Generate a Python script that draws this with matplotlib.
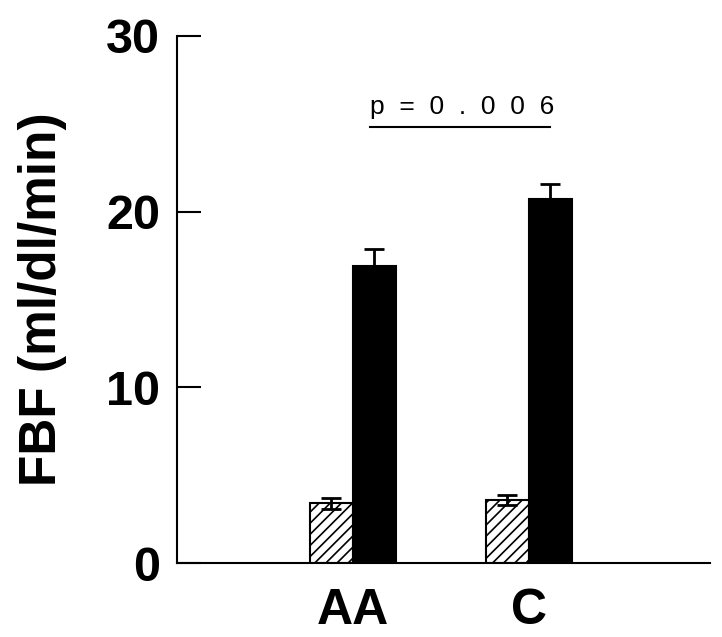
import numpy as np
import matplotlib
matplotlib.use("Agg")
import matplotlib.pyplot as plt

plt.rcParams['font.family'] = ['Liberation Sans', 'DejaVu Sans']
plt.rcParams['hatch.linewidth'] = 1.2

groups = ['AA', 'C']
baseline = [3.4, 3.6]
baseline_err = [0.3, 0.3]
peak = [16.9, 20.7]
peak_err = [1.0, 0.9]
p_text = "p  =  0  .  0  0  6"
p_level = 24.8

x = np.array([1.0, 2.0])
w = 0.245

fig = plt.figure(figsize=(7.22, 6.37), dpi=100)
ax = fig.add_axes([0.245, 0.116, 0.738, 0.8275])

ax.bar(x - w / 2, baseline, w, color='white', edgecolor='black', hatch='///', linewidth=1.5)
ax.errorbar(x - w / 2, baseline, yerr=baseline_err, fmt='none', ecolor='black', elinewidth=2, capsize=7, capthick=2)
ax.bar(x + w / 2, peak, w, color='black', edgecolor='black', linewidth=1.5)
ax.errorbar(x + w / 2, peak, yerr=[[0, 0], peak_err], fmt='none', ecolor='black', elinewidth=2, capsize=7, capthick=2)

# significance line
ax.plot([x[0] + 0.1, x[1] + 0.12], [p_level, p_level], color='black', lw=1.5)
ax.text((x[0] + x[1]) / 2 + 0.12, p_level + 0.5, p_text, ha='center', va='bottom', fontsize=19)

ax.set_xlim(0.0, 3.03)
ax.set_ylim(0, 30)
ax.set_yticks([0, 10, 20, 30])
ax.set_xticks(x)
ax.set_xticklabels(groups)
ax.tick_params(axis='y', direction='in', length=17, width=1.5, labelsize=35, pad=12)
ax.tick_params(axis='x', length=0, labelsize=36, pad=18)
for lab in ax.get_xticklabels() + ax.get_yticklabels():
    lab.set_fontweight('bold')
ax.spines['top'].set_visible(False)
ax.spines['right'].set_visible(False)
ax.spines['left'].set_linewidth(1.5)
ax.spines['bottom'].set_linewidth(1.5)
ax.set_ylabel("FBF (ml/dl/min)", fontsize=37, fontweight='bold', labelpad=28)

fig.savefig("out.png", dpi=100)
